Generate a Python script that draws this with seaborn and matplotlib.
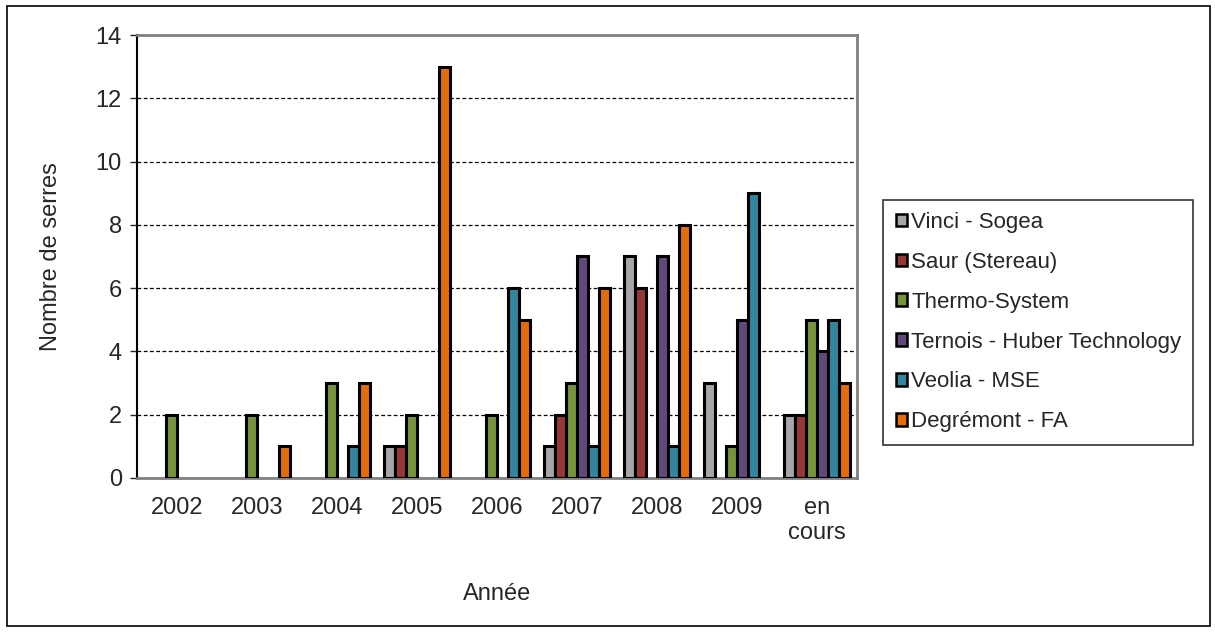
import pandas as pd
import numpy as np
import matplotlib.pyplot as plt
import seaborn as sns
from matplotlib.patches import Patch, Rectangle

# ---- data ----
annees = ["2002", "2003", "2004", "2005", "2006", "2007", "2008", "2009", "en\ncours"]
societes = ["Vinci - Sogea", "Saur (Stereau)", "Thermo-System",
            "Ternois - Huber Technology", "Veolia - MSE", "Degrémont - FA"]

vinci = [0, 0, 0, 1, 0, 1, 7, 3, 2]
saur = [0, 0, 0, 1, 0, 2, 6, 0, 2]
thermo = [2, 2, 3, 2, 2, 3, 0, 1, 5]
ternois = [0, 0, 0, 0, 0, 7, 7, 5, 4]
veolia = [0, 0, 1, 0, 6, 1, 1, 9, 5]
degremont = [0, 1, 3, 13, 5, 6, 8, 0, 3]

couleurs = ["#A6A6A6", "#953735", "#77933C", "#604A7B", "#31859C", "#E46C0A"]

series = [vinci, saur, thermo, ternois, veolia, degremont]
rows = []
for nom, vals in zip(societes, series):
    for an, v in zip(annees, vals):
        rows.append({"annee": an, "societe": nom, "n": v})
df = pd.DataFrame(rows)
df = df[df["n"] > 0]  # pas de barre pour les zeros

# ---- plot ----
sns.set_style("white")
plt.rcParams["font.family"] = ["Liberation Sans", "DejaVu Sans"]

fig = plt.figure(figsize=(12.15, 6.32), dpi=100)
ax = fig.add_axes([0.1128, 0.2437, 0.5926, 0.7009])

sns.barplot(data=df, x="annee", y="n", hue="societe", order=annees,
            hue_order=societes, palette=couleurs, saturation=1, width=0.82,
            edgecolor="black", linewidth=2.2, ax=ax, legend=False, zorder=3)

ax.set_ylim(0, 14)
ax.set_xlim(-0.5, len(annees) - 0.5)
ax.set_yticks(np.arange(0, 15, 2))
ax.yaxis.grid(True, linestyle=(0, (3, 2)), color="black", linewidth=0.9)
ax.set_axisbelow(True)

for s in ["top", "right"]:
    ax.spines[s].set_color("#808080")
    ax.spines[s].set_linewidth(2)
ax.spines["bottom"].set_color("#808080")
ax.spines["bottom"].set_linewidth(2)
ax.spines["left"].set_color("black")
ax.spines["left"].set_linewidth(1.5)

ax.tick_params(axis="y", left=True, length=5, width=1, labelsize=17, pad=6)
ax.tick_params(axis="x", bottom=False, labelsize=17, pad=10)

ax.set_xlabel("Année", fontsize=17, labelpad=28)
ax.set_ylabel("Nombre de serres", fontsize=17, labelpad=24)

handles = [Patch(facecolor=c, edgecolor="black", linewidth=1.8) for c in couleurs]
leg = fig.legend(handles, societes, loc="upper left",
                 bbox_to_anchor=(0.727, 0.684), fontsize=16,
                 frameon=True, fancybox=False, edgecolor="black",
                 handlelength=0.5, handleheight=0.5, handletextpad=0.2,
                 labelspacing=0.85, borderpad=0.55, borderaxespad=0)
leg.get_frame().set_linewidth(1.2)

fig.patches.append(Rectangle((7 / 1215, 6 / 632), 1203 / 1215, 620 / 632,
                             transform=fig.transFigure, fill=False,
                             edgecolor="black", linewidth=1.2))

fig.savefig("out.png", dpi=100)
